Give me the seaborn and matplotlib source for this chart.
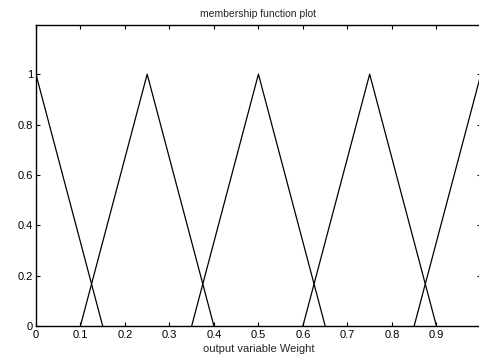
import numpy as np
import pandas as pd
import seaborn as sns
import matplotlib.pyplot as plt

# triangular membership functions (left foot, peak, right foot)
mf_names = ["mf1", "mf2", "mf3", "mf4", "mf5"]
mf_left = [-0.15, 0.10, 0.35, 0.60, 0.85]
mf_peak = [0.00, 0.25, 0.50, 0.75, 1.00]
mf_right = [0.15, 0.40, 0.65, 0.90, 1.15]

x_ticks = [0, 0.1, 0.2, 0.3, 0.4, 0.5, 0.6, 0.7, 0.8, 0.9]
x_labels = ["0", "0.1", "0.2", "0.3", "0.4", "0.5", "0.6", "0.7", "0.8", "0.9"]
y_ticks = [0, 0.2, 0.4, 0.6, 0.8, 1]
y_labels = ["0", "0.2", "0.4", "0.6", "0.8", "1"]

rows = []
for name, a, b, c in zip(mf_names, mf_left, mf_peak, mf_right):
    rows.append({"mf": name, "x": a, "y": 0.0, "order": 0})
    rows.append({"mf": name, "x": b, "y": 1.0, "order": 1})
    rows.append({"mf": name, "x": c, "y": 0.0, "order": 2})
df = pd.DataFrame(rows)

sns.set_style("white")
plt.rcParams["font.family"] = ["Liberation Sans", "DejaVu Sans"]

fig = plt.figure(figsize=(4.79, 3.63), dpi=100)
ax = fig.add_axes([0.075, 0.102, 0.929, 0.829])

sns.lineplot(data=df, x="x", y="y", units="mf", estimator=None, sort=False,
             color="black", linewidth=0.9, ax=ax, legend=False)

ax.set_xlim(0, 1)
ax.set_ylim(0, 1.195)
ax.set_xticks(x_ticks)
ax.set_xticklabels(x_labels)
ax.set_yticks(y_ticks)
ax.set_yticklabels(y_labels)
ax.tick_params(direction="in", length=3, width=0.8, labelsize=8,
               top=True, right=True, bottom=True, left=True,
               colors="black", pad=2)
ax.tick_params(axis="x", pad=3)
for s in ax.spines.values():
    s.set_color("black")
    s.set_linewidth(1.0)

ax.set_title("membership function plot", fontsize=7.5, pad=6)
ax.set_xlabel("output variable Weight", fontsize=8, labelpad=3)
ax.set_ylabel("")

fig.savefig("out.png", dpi=100, facecolor="white")
